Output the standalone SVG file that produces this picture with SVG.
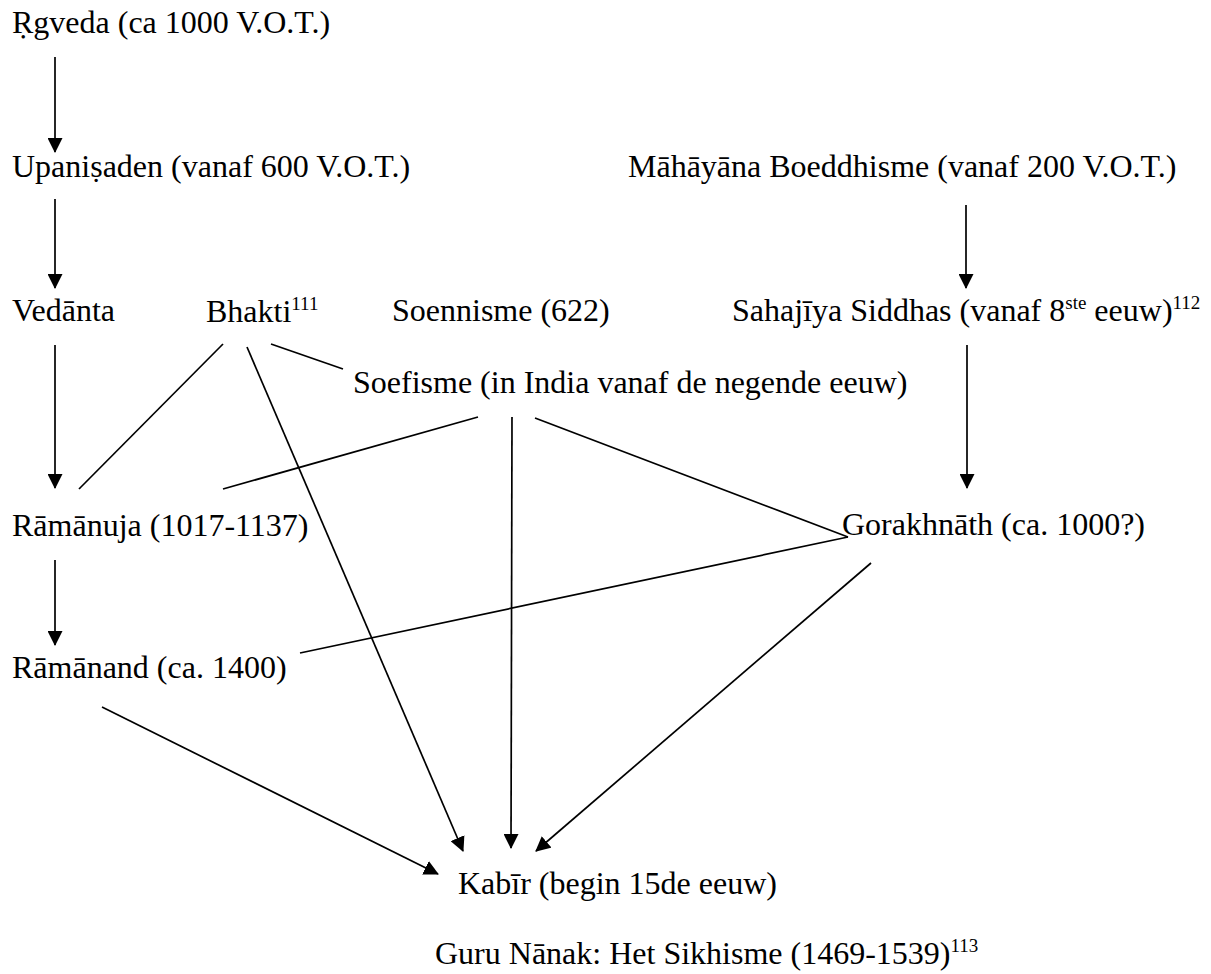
<svg xmlns="http://www.w3.org/2000/svg" width="1211" height="974" viewBox="0 0 1211 974">
<style>
text{font-family:"Liberation Serif","Times New Roman",serif;font-size:32px;fill:#000}
.sup{font-size:19px}
.c line{stroke:#000;stroke-width:1.7;fill:none}
</style>
<defs>
<marker id="ah" viewBox="0 0 15 15" markerWidth="15" markerHeight="15" refX="14" refY="7.5" orient="auto" markerUnits="userSpaceOnUse">
<path d="M0,0 L15,7.5 L0,15 z" fill="#000"/>
</marker>
</defs>
<rect width="1211" height="974" fill="#fff"/>
<g id="n-rgveda"><text x="12" y="33">Ṛgveda (ca 1000 V.O.T.)</text></g>
<g id="n-upanisaden"><text x="12" y="177">Upaniṣaden (vanaf 600 V.O.T.)</text></g>
<g id="n-mahayana"><text x="628" y="177">Māhāyāna Boeddhisme (vanaf 200 V.O.T.)</text></g>
<g id="n-vedanta"><text x="12" y="321">Vedānta</text></g>
<g id="n-bhakti"><text x="206" y="322">Bhakti<tspan class="sup" dy="-12">111</tspan></text></g>
<g id="n-soennisme"><text x="392" y="321">Soennisme (622)</text></g>
<g id="n-sahajiya"><text x="732" y="321">Sahajīya Siddhas (vanaf 8<tspan class="sup" dy="-12">ste</tspan><tspan dy="12"> eeuw)</tspan><tspan class="sup" dy="-12">112</tspan></text></g>
<g id="n-soefisme"><text x="353" y="393">Soefisme (in India vanaf de negende eeuw)</text></g>
<g id="n-ramanuja"><text x="12" y="536">Rāmānuja (1017-1137)</text></g>
<g id="n-gorakhnath"><text x="842" y="535">Gorakhnāth (ca. 1000?)</text></g>
<g id="n-ramanand"><text x="12" y="678">Rāmānand (ca. 1400)</text></g>
<g id="n-kabir"><text x="458" y="894">Kabīr (begin 15de eeuw)</text></g>
<g id="n-nanak"><text x="435" y="964">Guru Nānak: Het Sikhisme (1469-1539)<tspan class="sup" dy="-12">113</tspan></text></g>
<g class="c" id="connectors">
<line x1="55" y1="57" x2="55" y2="152" marker-end="url(#ah)"/>
<line x1="55" y1="199" x2="55" y2="288" marker-end="url(#ah)"/>
<line x1="966" y1="205" x2="966" y2="288" marker-end="url(#ah)"/>
<line x1="55" y1="345" x2="55" y2="488" marker-end="url(#ah)"/>
<line x1="967" y1="345" x2="967" y2="488" marker-end="url(#ah)"/>
<line x1="223" y1="344" x2="79" y2="489"/>
<line x1="247" y1="347" x2="463" y2="851" marker-end="url(#ah)"/>
<line x1="271" y1="344" x2="343" y2="369"/>
<line x1="478" y1="417" x2="223" y2="489"/>
<line x1="512" y1="417" x2="511" y2="848" marker-end="url(#ah)"/>
<line x1="535" y1="418" x2="848" y2="537"/>
<line x1="848" y1="537" x2="300" y2="653"/>
<line x1="871" y1="563" x2="536" y2="851" marker-end="url(#ah)"/>
<line x1="55" y1="560" x2="55" y2="645" marker-end="url(#ah)"/>
<line x1="102" y1="707" x2="438" y2="874" marker-end="url(#ah)"/>
</g>
</svg>
